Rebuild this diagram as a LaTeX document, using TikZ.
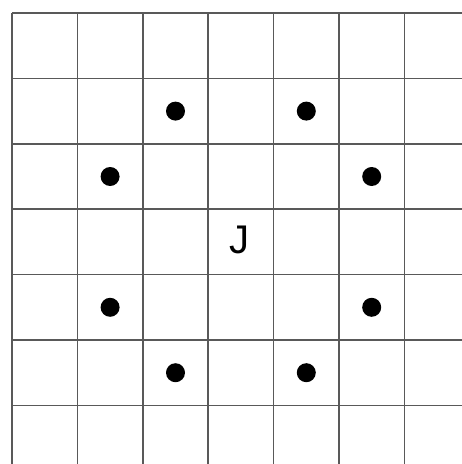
\documentclass[tikz,border=0pt]{standalone}
\usepackage{fontspec}
\setmainfont{Liberation Sans}
\begin{document}
\begin{tikzpicture}[x=1pt,y=-1pt,
  gridline/.style={draw=black!65,line width=1.6pt},
  dotmark/.style={circle,fill=black,inner sep=0pt,minimum size=19pt},
  letter/.style={font=\fontsize{40}{42}\selectfont,inner sep=0pt}]
\useasboundingbox[fill=white] (0,0) rectangle (462,464);
\foreach \k in {0,...,6} {
  \draw[gridline] ({12+65.4*\k},13) -- ({12+65.4*\k},464);
  \draw[gridline] (12,{13+65.4*\k}) -- (462,{13+65.4*\k});
}
\node[dotmark] (d1) at (175.5,111.1) {};
\node[dotmark] (d2) at (306.3,111.1) {};
\node[dotmark] (d3) at (110.1,176.5) {};
\node[dotmark] (d4) at (371.7,176.5) {};
\node[dotmark] (d5) at (110.1,307.3) {};
\node[dotmark] (d6) at (371.7,307.3) {};
\node[dotmark] (d7) at (175.5,372.7) {};
\node[dotmark] (d8) at (306.3,372.7) {};
\node[letter] (j) at (239,240) {J};
\end{tikzpicture}
\end{document}
